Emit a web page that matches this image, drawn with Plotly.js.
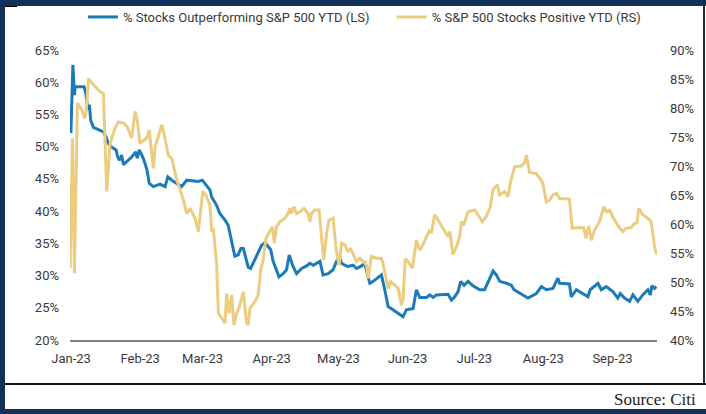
<!DOCTYPE html>
<html>
<head>
<meta charset="utf-8">
<script src="https://cdn.plot.ly/plotly-3.0.1.min.js"></script>
<style>
  html, body { margin: 0; padding: 0; background: #ffffff; }
  #wrap { position: relative; width: 706px; height: 414px; overflow: hidden; }
  #chart { position: absolute; left: 0; top: 0; width: 706px; height: 414px; }
  .fr { position: absolute; pointer-events: none; }
</style>
</head>
<body>
<div id="wrap">
  <div id="chart"></div>
  <div class="fr" style="left:0;top:0;width:706px;height:6px;background:#13305b;"></div>
  <div class="fr" style="left:5px;top:6px;width:12px;height:1px;background:#000;"></div>
  <div class="fr" style="left:0;top:0;width:5px;height:414px;background:#13305b;"></div>
  <div class="fr" style="left:703px;top:0;width:2px;height:384px;background:#1b2a44;"></div>
  <div class="fr" style="left:5px;top:383px;width:701px;height:2px;background:#111;"></div>
  <div class="fr" style="left:0;top:409px;width:706px;height:5px;background:#13305b;"></div>
</div>
<script>
// Day of 2023 (1 = 1 Jan 2023) and values
const seriesNames = ["% Stocks Outperforming S&P 500 YTD (LS)", "% S&P 500 Stocks Positive YTD (RS)"];

const outperfDays = [0.9,1.8,2.5,2.8,3.6,5.0,6.8,7.6,8.5,9.2,9.8,11.0,13.2,15.5,16.7,17.7,19.3,21.2,21.9,22.7,23.7,24.5,26.0,28.2,30.0,30.7,31.6,33.4,34.9,36.1,37.9,40.9,43.2,44.4,46.2,48.4,50.6,52.9,56.2,58.1,59.9,61.9,63.3,64.1,66.3,67.8,70.1,71.5,72.3,73.8,74.5,76.0,77.2,78.3,79.5,80.5,81.6,82.7,84.3,86.5,88.0,89.5,90.6,91.7,93.2,94.3,96.2,97.7,98.9,100.4,102.2,104.5,106.7,108.2,109.7,111.2,112.7,114.1,116.4,118.6,120.1,121.6,122.4,123.9,125.3,127.6,129.1,131.4,132.8,134.3,135.1,136.6,138.4,140.3,141.8,143.3,145.5,147.8,150.0,151.5,154.5,156.0,157.5,160.5,162.0,163.5,165.0,170.2,171.7,173.2,174.7,175.9,177.4,179.2,181.4,184.4,186.6,188.6,190.4,191.9,193.4,196.4,198.6,199.8,202.3,206.1,209.8,212.1,214.3,217.3,219.5,220.3,224.7,225.5,227.8,230.7,233.0,234.0,237.5,239.0,241.2,244.2,246.4,247.5,249.4,251.7,253.2,255.4,257.6,259.9,261.0,261.7,262.9,263.7];
const outperfVals = [52.1,62.7,58.0,59.3,59.3,59.3,59.3,58.3,55.7,56.5,54.1,53.0,52.7,52.3,51.5,50.5,49.9,49.5,48.4,47.9,48.7,47.2,47.7,48.4,49.2,48.2,49.5,48.2,46.6,44.3,43.8,44.2,43.8,45.3,44.8,44.3,43.8,44.8,44.6,44.6,44.8,43.8,43.3,42.2,40.9,39.6,38.6,37.8,36.6,34.0,33.0,33.2,34.2,34.2,32.4,31.3,31.1,31.9,32.9,34.7,35.1,34.5,34.0,32.2,30.9,29.8,30.3,30.9,33.2,31.6,30.3,31.1,31.5,31.9,31.6,31.9,32.2,30.1,30.3,30.9,32.2,32.7,31.9,31.6,31.4,31.6,31.1,31.5,31.9,29.8,28.8,29.1,29.6,30.1,27.8,25.2,24.7,24.2,23.6,24.7,24.9,27.8,26.6,26.6,27.0,26.6,27.0,27.1,26.2,26.7,27.5,29.1,28.5,29.1,28.4,27.8,27.8,29.3,30.7,30.1,29.1,28.8,28.5,27.8,27.3,26.5,27.2,28.3,27.8,28.0,29.6,28.8,28.7,26.7,27.8,27.2,26.7,27.8,28.8,27.8,28.3,27.5,26.5,27.2,26.5,26.0,27.0,26.0,27.0,27.8,27.0,28.4,28.0,28.3];

const positiveDays = [0.55,1.6,2.5,3.8,5.0,6.1,7.0,7.7,8.8,10.3,12.5,14.0,15.5,17.0,18.5,20.7,22.2,24.5,26.2,28.2,29.7,30.7,31.9,34.9,36.1,37.9,38.7,41.7,42.7,44.6,46.2,48.4,49.9,51.4,52.9,54.4,56.6,58.1,60.1,61.5,63.3,64.1,64.8,66.3,67.1,68.6,70.1,70.8,72.0,73.1,74.1,75.3,76.5,78.3,79.8,80.5,81.3,83.5,85.0,86.1,87.2,88.4,89.5,90.6,91.4,92.2,93.2,94.7,97.0,98.4,99.2,100.0,101.0,102.2,103.7,105.5,107.4,108.2,108.9,110.4,112.3,113.4,114.4,115.7,116.8,118.6,120.1,121.3,122.4,123.9,125.3,126.4,127.6,129.1,130.6,132.1,133.6,134.3,135.8,138.1,140.3,141.0,142.6,143.3,144.4,146.3,147.8,149.3,150.0,151.0,152.3,154.2,156.0,157.5,159.3,160.5,162.0,162.7,164.2,165.7,168.0,170.2,171.0,172.4,174.0,175.4,176.2,177.2,179.2,180.7,182.2,183.6,185.6,187.4,189.2,190.4,192.3,193.4,195.6,197.1,198.3,200.1,203.1,204.6,205.4,206.8,209.8,211.3,212.8,214.3,215.8,217.3,218.8,220.3,224.7,225.9,227.8,231.1,232.2,233.3,234.5,236.0,238.2,240.1,241.2,242.7,244.9,247.2,248.7,250.2,252.4,253.9,255.0,255.8,257.6,259.9,261.4,262.9,263.9];
const positiveVals = [52.4,74.8,51.5,80.8,80.2,79.4,78.2,79.1,85.1,84.3,83.4,82.8,82.5,65.6,73.9,76.5,77.6,77.4,76.8,74.8,79.4,77.9,73.9,74.8,76.2,69.6,73.3,77.1,75.6,71.9,71.3,67.6,65.9,64.1,61.8,62.7,61.0,58.7,65.6,65.0,63.3,58.7,59.3,53.2,44.6,43.7,42.9,48.0,44.6,47.8,42.6,44.6,45.7,48.3,42.9,42.6,45.5,46.6,47.8,52.1,53.8,57.5,58.4,59.0,59.5,56.7,59.5,60.4,61.0,61.8,62.7,61.8,63.0,61.8,62.1,62.7,61.8,60.4,61.8,62.4,62.4,57.5,53.8,58.4,60.7,61.0,55.2,52.9,56.7,56.4,55.2,55.8,54.7,53.5,54.1,53.5,52.9,50.6,54.4,54.1,54.1,53.2,49.8,48.9,50.1,49.5,48.9,46.0,47.0,54.0,53.5,52.4,57.2,55.5,56.7,57.8,59.0,58.4,61.6,60.7,59.3,57.8,58.7,54.7,56.1,57.8,60.4,59.8,62.1,62.3,62.4,61.6,60.4,61.3,63.0,65.9,66.8,65.0,65.6,64.7,67.3,69.9,70.0,70.6,71.9,68.9,68.7,67.9,67.0,63.8,64.1,65.0,65.3,64.4,64.3,59.3,59.3,59.4,57.5,59.7,57.2,59.0,60.4,63.0,62.1,62.4,60.7,59.3,58.7,59.3,59.4,60.1,60.2,62.7,61.6,61.0,60.4,56.1,54.7];

const leftRange = [20, 65];
const rightRange = [40, 90];
const dayRange = [0.5, 264];
const sourceText = "Source: Citi";

function dayToDate(d) {
  const t = Date.UTC(2023, 0, 1) + (d - 1) * 86400000;
  return new Date(t).toISOString().replace('T', ' ').replace('Z', '').slice(0, 19);
}

const fontFam = "Roboto, 'Liberation Sans', sans-serif";
const txtColor = '#3a3a3a';
const fs = 13;

const traces = [
  {
    x: outperfDays.map(dayToDate), y: outperfVals, name: seriesNames[0],
    type: 'scatter', mode: 'lines', yaxis: 'y', legend: 'legend',
    line: { color: '#1c7bb6', width: 3 }
  },
  {
    x: positiveDays.map(dayToDate), y: positiveVals, name: seriesNames[1],
    type: 'scatter', mode: 'lines', yaxis: 'y2', legend: 'legend2',
    line: { color: '#ebcc81', width: 3 }
  }
];

const legendBase = {
  orientation: 'h', xanchor: 'left', y: 1 + (50 - 17) / 290, yanchor: 'middle',
  itemwidth: 30,
  font: { family: fontFam, size: fs, color: txtColor },
  bgcolor: 'rgba(0,0,0,0)'
};

const layout = {
  width: 706, height: 414,
  margin: { l: 70, r: 49, t: 50, b: 74, autoexpand: false },
  paper_bgcolor: '#ffffff', plot_bgcolor: '#ffffff',
  font: { family: fontFam, size: fs, color: txtColor },
  showlegend: true,
  legend: Object.assign({}, legendBase, { x: 0.022 }),
  legend2: Object.assign({}, legendBase, { x: 0.548 }),
  xaxis: {
    type: 'date', range: [dayToDate(dayRange[0]), dayToDate(dayRange[1])],
    tick0: '2023-01-01', dtick: 'M1', tickformat: '%b-%y',
    showgrid: false, zeroline: false, showline: true, linecolor: '#808080', linewidth: 2,
    ticks: '', ticklabelstandoff: 5, automargin: false,
    tickfont: { family: fontFam, size: fs, color: txtColor }
  },
  yaxis: {
    range: leftRange, dtick: 5, ticksuffix: '%',
    showgrid: false, zeroline: false, showline: false, ticks: '',
    ticklabelstandoff: 10, automargin: false,
    tickfont: { family: fontFam, size: fs, color: txtColor }
  },
  yaxis2: {
    range: rightRange, dtick: 5, ticksuffix: '%', overlaying: 'y', side: 'right',
    showgrid: false, zeroline: false, showline: false, ticks: '',
    ticklabelstandoff: 12, automargin: false,
    tickfont: { family: fontFam, size: fs, color: txtColor }
  },
  annotations: [{
    text: sourceText, xref: 'paper', yref: 'paper',
    x: (698 - 70) / 587, xanchor: 'right', y: (340 - 399) / 290, yanchor: 'middle',
    showarrow: false,
    font: { family: "'Liberation Serif', 'DejaVu Serif', serif", size: 17, color: '#222' }
  }]
};

Plotly.newPlot('chart', traces, layout, { displayModeBar: false, staticPlot: true });
</script>
</body>
</html>
